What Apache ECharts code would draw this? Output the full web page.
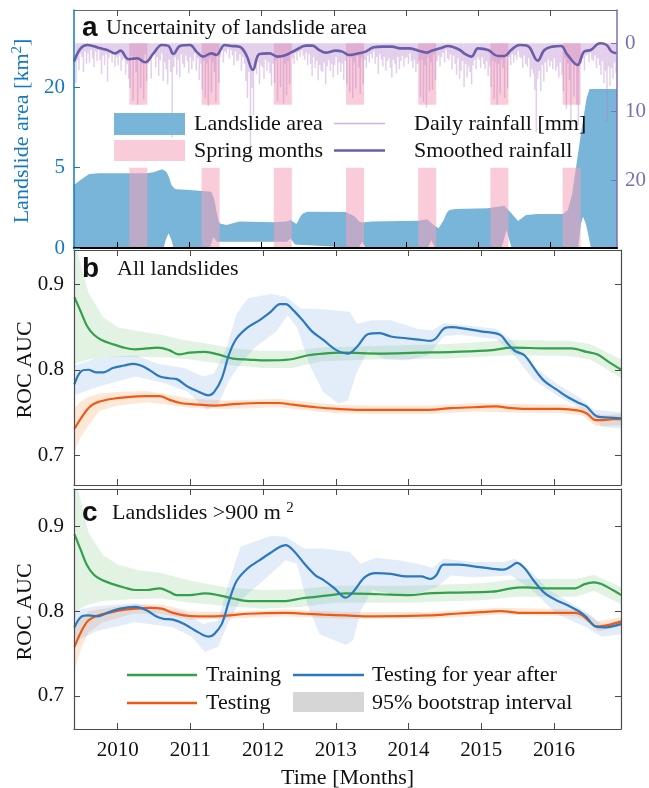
<!DOCTYPE html>
<html><head><meta charset="utf-8">
<script src="https://cdn.jsdelivr.net/npm/echarts@6/dist/echarts.min.js"></script>
<style>html,body{margin:0;padding:0;background:#fff}#c{width:649px;height:788px}</style>
</head><body><div id="c"></div>
<script>
// ---------- axis / tick data ----------
const xMin = 2009.4, xMax = 2016.92;
const yearTicks = [2010, 2011, 2012, 2013, 2014, 2015, 2016];
const areaTicks = [0, 5, 20];
const rainTicks = [0, 10, 20];
const rocTicks = [0.7, 0.8, 0.9];
const springYears = [2010, 2011, 2012, 2013, 2014, 2015, 2016];
const springFromMonth = 3, springToMonth = 5;
const springAreaTop = 5;     // km^2
const springRainDepth = 9;   // mm

// ---------- panel a: landslide area band (km^2) ----------
const areaUpper = [[2009.40,3.08],[2009.49,3.59],[2009.61,4.25],[2009.75,4.33],[2010.40,4.33],[2010.50,4.45],[2010.62,4.80],[2010.68,4.51],[2010.71,4.0],[2010.75,3.08],[2010.79,2.75],[2010.82,2.67],[2011.00,2.61],[2011.30,2.46],[2011.34,1.9],[2011.37,1.12],[2011.40,0.6],[2011.42,0.47],[2011.51,0.41],[2011.69,0.54],[2012.15,0.51],[2012.34,0.54],[2012.40,0.61],[2012.48,0.45],[2012.54,0.8],[2012.57,0.93],[2012.63,1.02],[2013.16,1.00],[2013.28,0.79],[2013.35,0.55],[2013.39,0.50],[2013.53,0.54],[2014.17,0.58],[2014.29,0.64],[2014.38,0.41],[2014.45,0.30],[2014.52,0.61],[2014.56,0.95],[2014.60,1.12],[2014.68,1.18],[2015.13,1.22],[2015.36,1.39],[2015.46,0.93],[2015.55,0.57],[2015.66,0.84],[2015.82,0.90],[2016.17,0.90],[2016.24,1.12],[2016.30,2.3],[2016.36,5.5],[2016.43,11.0],[2016.50,17.5],[2016.54,19.6],[2016.92,19.6]];
const areaLower = [[2009.40,0],[2010.64,0],[2010.67,0.05],[2010.71,0.17],[2010.75,0.05],[2010.78,0],[2011.28,0],[2011.33,0.09],[2011.38,0.03],[2012.35,0.03],[2012.40,0.07],[2012.46,0.01],[2013.34,0],[2013.39,0.03],[2013.44,0],[2014.30,0],[2014.35,0.05],[2014.40,0],[2015.32,0],[2015.39,0.25],[2015.46,0],[2016.38,0],[2016.42,0.45],[2016.45,0.76],[2016.49,0.45],[2016.56,0],[2016.92,0]];

// ---------- panel a: rainfall (mm), weekly bars from June 2009 ----------
const rain2009 = [5.8,2.5,3.9,1.5, 2.0,4.2,1.2,3.0, 1.5,2.8,1.0,2.2, 3.5,1.2,2.6,1.0, 2.4,4.5,1.8,3.2, 1.6,5.6,2.2,1.4, 2.8,1.5,3.4,2.0];
const rain2010 = [3.2,1.8,4.0,2.5, 2.2,4.6,3.0,5.2, 6.5,1.8,8.4,2.5, 4.2,9.0,2.0,6.6, 3.0,8.2,1.6,5.5, 3.0,2.2,5.2,1.8, 1.2,3.5,2.0,4.8, 2.5,1.5,5.5,2.8, 3.8,6.0,2.4,4.2, 13.8,3.5,2.0,4.6, 2.4,5.0,1.6,3.0, 3.6,1.8,2.6,4.4];
const rain2011 = [2.0,3.8,2.6,1.5, 4.0,2.2,5.4,3.0, 6.8,2.5,8.0,3.0, 9.2,2.2,7.2,2.8, 4.2,8.6,1.6,5.8, 2.0,1.0,2.8,1.2, 1.5,0.8,2.2,1.0, 1.8,3.2,1.2,2.6, 2.5,1.6,4.0,2.0, 3.0,5.5,8.0,4.2, 17.5,6.5,10.5,3.8, 4.5,2.8,6.0,3.2];
const rain2012 = [3.5,5.2,2.4,4.0, 2.8,4.4,6.2,3.0, 5.8,2.5,8.5,2.2, 6.4,1.8,8.8,3.0, 7.6,2.6,6.0,1.4, 2.2,3.0,1.4,2.5, 1.2,2.0,1.0,1.8, 2.4,1.4,3.2,1.6, 3.0,4.8,2.0,3.6, 2.6,5.4,3.2,4.0, 4.2,2.8,6.0,3.4, 2.5,4.0,3.0,5.0];
const rain2013 = [3.2,2.0,4.6,2.8, 4.2,3.0,5.4,2.6, 6.0,2.0,7.2,2.2, 8.0,2.8,6.6,1.8, 3.5,7.4,2.2,6.0, 2.4,3.6,1.8,2.8, 1.6,2.2,1.2,3.0, 2.0,4.5,1.6,2.4, 3.4,2.0,4.0,2.6, 2.2,3.6,5.0,2.4, 3.0,4.4,2.0,3.8, 2.6,1.8,3.4,2.2];
const rain2014 = [2.0,3.0,1.5,2.6, 3.6,2.4,4.2,3.0, 2.6,7.8,2.4,8.6, 3.2,9.4,2.0,7.0, 2.8,6.8,1.6,5.4, 2.6,1.8,3.4,2.0, 1.4,2.8,1.0,2.2, 2.4,1.6,3.8,1.8, 3.0,4.6,2.2,5.2, 4.0,2.6,6.4,3.0, 5.0,3.4,4.2,6.0, 3.2,2.4,3.8,2.0];
const rain2015 = [2.4,3.6,2.0,3.0, 3.8,2.6,4.8,3.4, 6.4,2.6,8.2,2.8, 9.0,3.0,7.4,2.4, 3.6,8.0,1.8,6.6, 2.0,3.2,1.6,2.8, 1.8,2.4,1.2,2.0, 2.2,3.6,1.8,3.0, 3.4,2.2,5.0,3.8, 4.4,6.8,13.0,5.2, 4.0,7.0,3.2,5.6, 2.8,4.2,2.4,3.4];
const rain2016 = [2.6,3.8,2.2,4.0, 3.4,5.0,2.8,4.6, 7.0,2.2,9.6,3.0, 5.4,11.5,2.6,7.8, 3.2,9.0,12.0,2.4, 3.0,2.2,4.0,1.8, 1.6,2.8,1.4,2.4, 2.6,1.8,3.6,2.2, 3.2,4.6,2.6,5.8, 4.0,11.5,3.4,6.2, 3.6,5.2,2.8,4.4];
const rainSmooth = [[2009.400,2.69],[2009.492,0.74],[2009.583,0.25],[2009.767,0.74],[2009.859,0.98],[2009.973,1.47],[2010.042,1.08],[2010.157,2.34],[2010.272,2.20],[2010.386,2.78],[2010.501,1.47],[2010.616,0.25],[2010.707,0.39],[2010.776,1.56],[2010.868,0.39],[2011.006,0.25],[2011.097,1.22],[2011.189,1.95],[2011.304,1.47],[2011.372,1.71],[2011.487,0.25],[2011.579,0.39],[2011.693,0.49],[2011.785,1.71],[2011.877,3.90],[2011.969,1.56],[2012.106,1.47],[2012.221,1.95],[2012.336,1.71],[2012.473,0.98],[2012.611,0.34],[2012.703,0.34],[2012.794,0.98],[2012.886,1.37],[2013.024,1.08],[2013.116,1.22],[2013.207,1.71],[2013.345,1.47],[2013.437,1.22],[2013.551,0.59],[2013.666,0.49],[2013.804,0.49],[2013.918,0.74],[2014.033,0.74],[2014.171,1.08],[2014.285,1.37],[2014.354,1.08],[2014.469,0.74],[2014.583,0.39],[2014.744,0.98],[2014.813,1.56],[2014.905,1.95],[2014.996,0.74],[2015.134,0.98],[2015.272,1.86],[2015.363,1.86],[2015.455,0.98],[2015.570,0.25],[2015.684,0.39],[2015.822,2.54],[2015.914,0.98],[2016.028,0.49],[2016.143,0.39],[2016.235,1.71],[2016.372,3.17],[2016.464,1.22],[2016.556,0.98],[2016.684,0.0],[2016.776,0.25],[2016.845,1.22],[2016.913,1.46]];

// ---------- panel b: all landslides ----------
const bTraining = [[2009.406,0.885],[2009.494,0.868],[2009.581,0.851],[2009.674,0.841],[2009.778,0.835],[2009.933,0.830],[2010.088,0.826],[2010.243,0.824],[2010.398,0.825],[2010.553,0.826],[2010.708,0.823],[2010.837,0.818],[2010.992,0.820],[2011.199,0.821],[2011.380,0.818],[2011.587,0.813],[2011.793,0.812],[2012.052,0.811],[2012.362,0.812],[2012.620,0.817],[2012.827,0.819],[2013.085,0.820],[2013.602,0.819],[2014.119,0.820],[2014.636,0.821],[2015.152,0.823],[2015.411,0.826],[2015.928,0.825],[2016.238,0.825],[2016.444,0.821],[2016.599,0.818],[2016.755,0.809],[2016.925,0.800]];
const bTrainingHi = [[2009.406,0.950],[2009.6,0.890],[2009.8,0.862],[2010.0,0.850],[2010.3,0.845],[2010.6,0.841],[2010.9,0.835],[2011.2,0.831],[2011.6,0.825],[2012.0,0.822],[2012.4,0.822],[2012.8,0.826],[2013.5,0.828],[2014.5,0.830],[2015.4,0.835],[2016.2,0.834],[2016.5,0.830],[2016.925,0.812]];
const bTrainingLo = [[2009.406,0.807],[2009.6,0.812],[2009.8,0.815],[2010.2,0.815],[2010.6,0.815],[2011.0,0.812],[2011.6,0.805],[2012.0,0.802],[2012.4,0.802],[2012.8,0.810],[2013.5,0.812],[2014.5,0.813],[2015.4,0.817],[2016.2,0.816],[2016.5,0.812],[2016.925,0.790]];
const bTesting = [[2009.406,0.731],[2009.519,0.746],[2009.623,0.757],[2009.726,0.762],[2009.933,0.766],[2010.140,0.768],[2010.398,0.769],[2010.579,0.769],[2010.708,0.765],[2010.863,0.761],[2011.121,0.759],[2011.328,0.758],[2011.638,0.760],[2011.948,0.761],[2012.207,0.761],[2012.413,0.759],[2012.723,0.756],[2013.034,0.754],[2013.344,0.753],[2014.274,0.753],[2014.584,0.755],[2014.894,0.756],[2015.204,0.757],[2015.411,0.755],[2015.721,0.754],[2016.083,0.754],[2016.341,0.752],[2016.444,0.749],[2016.574,0.741],[2016.677,0.741],[2016.806,0.742],[2016.925,0.742]];
const bTestingHi = [[2009.406,0.755],[2009.5,0.763],[2009.6,0.768],[2009.75,0.772],[2010.0,0.774],[2010.4,0.775],[2010.7,0.771],[2011.0,0.766],[2011.5,0.764],[2012.2,0.766],[2013.0,0.759],[2013.5,0.758],[2014.3,0.758],[2014.9,0.761],[2015.4,0.760],[2016.1,0.759],[2016.4,0.756],[2016.57,0.748],[2016.7,0.747],[2016.925,0.748]];
const bTestingLo = [[2009.406,0.705],[2009.5,0.722],[2009.6,0.735],[2009.75,0.752],[2010.0,0.758],[2010.4,0.762],[2010.7,0.759],[2011.0,0.755],[2011.5,0.754],[2012.2,0.756],[2013.0,0.749],[2013.5,0.748],[2014.3,0.748],[2014.9,0.751],[2015.4,0.750],[2016.1,0.749],[2016.4,0.746],[2016.57,0.734],[2016.7,0.734],[2016.925,0.735]];
const bYearAfter = [[2009.406,0.783],[2009.494,0.798],[2009.597,0.800],[2009.700,0.797],[2009.804,0.797],[2009.933,0.802],[2010.088,0.805],[2010.217,0.807],[2010.320,0.805],[2010.450,0.799],[2010.579,0.792],[2010.708,0.790],[2010.811,0.789],[2010.966,0.780],[2011.121,0.774],[2011.251,0.770],[2011.328,0.774],[2011.432,0.790],[2011.535,0.819],[2011.638,0.837],[2011.793,0.850],[2011.948,0.858],[2012.103,0.868],[2012.233,0.877],[2012.310,0.877],[2012.413,0.870],[2012.543,0.858],[2012.672,0.845],[2012.827,0.835],[2013.008,0.823],[2013.163,0.819],[2013.292,0.827],[2013.447,0.842],[2013.602,0.843],[2013.757,0.839],[2013.964,0.837],[2014.171,0.835],[2014.300,0.834],[2014.377,0.837],[2014.481,0.848],[2014.584,0.850],[2014.791,0.848],[2014.997,0.845],[2015.256,0.841],[2015.359,0.831],[2015.463,0.822],[2015.592,0.817],[2015.773,0.796],[2015.876,0.786],[2016.031,0.777],[2016.186,0.768],[2016.341,0.761],[2016.444,0.757],[2016.599,0.745],[2016.755,0.744],[2016.925,0.743]];
const bYearAfterHi = [[2009.406,0.805],[2009.726,0.814],[2010.243,0.817],[2010.553,0.807],[2010.915,0.802],[2011.173,0.792],[2011.328,0.796],[2011.483,0.823],[2011.638,0.866],[2011.793,0.884],[2012.103,0.889],[2012.310,0.886],[2012.517,0.872],[2012.827,0.871],[2013.189,0.868],[2013.292,0.854],[2013.499,0.858],[2013.757,0.858],[2014.119,0.848],[2014.326,0.846],[2014.481,0.855],[2014.894,0.851],[2015.204,0.848],[2015.411,0.835],[2015.721,0.804],[2016.031,0.784],[2016.341,0.768],[2016.547,0.753],[2016.925,0.750]];
const bYearAfterLo = [[2009.406,0.770],[2009.726,0.780],[2010.243,0.792],[2010.656,0.784],[2010.966,0.774],[2011.225,0.753],[2011.380,0.759],[2011.535,0.788],[2011.690,0.807],[2011.897,0.827],[2012.181,0.845],[2012.336,0.864],[2012.465,0.850],[2012.646,0.804],[2012.827,0.774],[2013.034,0.760],[2013.163,0.764],[2013.292,0.798],[2013.447,0.823],[2013.654,0.813],[2013.964,0.811],[2014.274,0.817],[2014.481,0.839],[2014.687,0.841],[2015.204,0.836],[2015.411,0.821],[2015.721,0.788],[2016.031,0.770],[2016.444,0.751],[2016.651,0.733],[2016.925,0.731]];

// ---------- panel c: landslides > 900 m^2 ----------
const cTraining = [[2009.406,0.891],[2009.494,0.872],[2009.581,0.854],[2009.674,0.843],[2009.778,0.837],[2009.933,0.832],[2010.088,0.828],[2010.243,0.825],[2010.398,0.825],[2010.579,0.827],[2010.708,0.823],[2010.811,0.819],[2010.992,0.819],[2011.199,0.821],[2011.380,0.819],[2011.587,0.815],[2011.793,0.812],[2012.310,0.812],[2012.517,0.815],[2012.723,0.817],[2012.930,0.819],[2013.137,0.821],[2013.602,0.820],[2014.016,0.819],[2014.274,0.821],[2014.636,0.822],[2015.152,0.823],[2015.411,0.827],[2015.566,0.828],[2015.928,0.827],[2016.289,0.827],[2016.419,0.832],[2016.548,0.834],[2016.651,0.832],[2016.806,0.825],[2016.925,0.819]];
const cTrainingHi = [[2009.406,0.960],[2009.6,0.893],[2009.8,0.866],[2010.0,0.855],[2010.3,0.848],[2010.6,0.845],[2011.0,0.836],[2011.5,0.828],[2012.0,0.825],[2012.5,0.826],[2013.0,0.830],[2014.0,0.830],[2015.0,0.833],[2015.5,0.838],[2016.3,0.838],[2016.55,0.843],[2016.925,0.828]];
const cTrainingLo = [[2009.406,0.800],[2009.6,0.808],[2009.8,0.812],[2010.2,0.814],[2010.6,0.815],[2011.0,0.810],[2011.5,0.806],[2012.0,0.803],[2012.5,0.805],[2013.0,0.810],[2014.0,0.810],[2015.0,0.813],[2015.5,0.817],[2016.3,0.817],[2016.55,0.824],[2016.925,0.808]];
const cTesting = [[2009.406,0.758],[2009.494,0.775],[2009.597,0.789],[2009.726,0.795],[2009.881,0.798],[2010.036,0.801],[2010.243,0.803],[2010.450,0.804],[2010.605,0.803],[2010.760,0.798],[2010.915,0.795],[2011.121,0.794],[2011.328,0.794],[2011.535,0.795],[2011.793,0.797],[2012.310,0.798],[2012.568,0.797],[2012.827,0.796],[2013.137,0.795],[2013.499,0.794],[2014.274,0.795],[2014.636,0.797],[2014.997,0.799],[2015.256,0.800],[2015.566,0.798],[2016.289,0.798],[2016.393,0.795],[2016.496,0.787],[2016.574,0.782],[2016.703,0.783],[2016.806,0.785],[2016.925,0.788]];
const cTestingHi = [[2009.406,0.779],[2009.5,0.792],[2009.6,0.800],[2009.8,0.803],[2010.2,0.808],[2010.6,0.808],[2011.0,0.800],[2011.5,0.799],[2012.3,0.802],[2013.1,0.799],[2014.3,0.799],[2015.25,0.804],[2016.3,0.802],[2016.45,0.797],[2016.6,0.788],[2016.925,0.793]];
const cTestingLo = [[2009.406,0.730],[2009.5,0.757],[2009.6,0.775],[2009.8,0.787],[2010.2,0.797],[2010.6,0.797],[2011.0,0.790],[2011.5,0.791],[2012.3,0.794],[2013.1,0.791],[2014.3,0.791],[2015.25,0.796],[2016.3,0.794],[2016.45,0.788],[2016.6,0.776],[2016.925,0.782]];
const cYearAfter = [[2009.406,0.781],[2009.494,0.793],[2009.597,0.795],[2009.726,0.794],[2009.881,0.799],[2010.036,0.803],[2010.243,0.805],[2010.398,0.801],[2010.527,0.794],[2010.631,0.791],[2010.760,0.790],[2010.915,0.785],[2011.070,0.777],[2011.173,0.772],[2011.251,0.770],[2011.328,0.773],[2011.432,0.785],[2011.535,0.813],[2011.638,0.836],[2011.793,0.851],[2011.948,0.860],[2012.103,0.869],[2012.233,0.876],[2012.310,0.878],[2012.413,0.872],[2012.568,0.856],[2012.723,0.842],[2012.827,0.837],[2012.982,0.827],[2013.137,0.816],[2013.240,0.823],[2013.395,0.840],[2013.550,0.845],[2013.757,0.844],[2013.964,0.841],[2014.171,0.841],[2014.300,0.838],[2014.377,0.842],[2014.481,0.855],[2014.687,0.855],[2014.894,0.853],[2015.152,0.850],[2015.307,0.849],[2015.411,0.853],[2015.488,0.857],[2015.592,0.851],[2015.721,0.836],[2015.876,0.821],[2016.031,0.813],[2016.186,0.807],[2016.341,0.800],[2016.444,0.793],[2016.574,0.782],[2016.703,0.781],[2016.925,0.785]];
const cYearAfterHi = [[2009.406,0.801],[2009.726,0.806],[2010.243,0.809],[2010.553,0.805],[2010.915,0.799],[2011.173,0.785],[2011.380,0.789],[2011.535,0.836],[2011.690,0.876],[2012.103,0.889],[2012.310,0.888],[2012.568,0.874],[2012.827,0.874],[2013.189,0.870],[2013.344,0.856],[2013.550,0.863],[2013.860,0.860],[2014.171,0.855],[2014.326,0.851],[2014.481,0.862],[2014.894,0.858],[2015.307,0.858],[2015.462,0.862],[2015.669,0.848],[2015.928,0.825],[2016.444,0.799],[2016.651,0.785],[2016.925,0.789]];
const cYearAfterLo = [[2009.406,0.764],[2009.726,0.777],[2010.243,0.787],[2010.760,0.781],[2011.018,0.770],[2011.199,0.752],[2011.380,0.758],[2011.535,0.789],[2011.690,0.813],[2012.000,0.836],[2012.310,0.860],[2012.465,0.856],[2012.620,0.805],[2012.775,0.773],[2013.137,0.760],[2013.240,0.766],[2013.344,0.801],[2013.499,0.825],[2013.757,0.821],[2014.067,0.819],[2014.377,0.828],[2014.584,0.842],[2014.894,0.840],[2015.411,0.842],[2015.721,0.823],[2016.031,0.797],[2016.444,0.781],[2016.651,0.770],[2016.925,0.773]];

// ---------- styling ----------
const SERIF = '"Liberation Serif", "Times New Roman", serif';
const SANS = '"Liberation Sans", Arial, sans-serif';
const C_AREA = '#79b4d9', C_PINK = 'rgba(245,160,185,0.55)', C_RAIN = 'rgba(180,125,200,0.38)';
const C_SMOOTH = '#6a5ea8', C_RAINAX = '#7d6fb3', C_AREAAX = '#1479bf';
const C_GREEN = '#33a04a', C_ORANGE = '#ee5a16', C_BLUE = '#2b78be';
const F_GREEN = 'rgba(70,175,70,0.15)', F_ORANGE = 'rgba(245,135,55,0.2)', F_BLUE = 'rgba(80,145,215,0.16)';
const BOX = '#4a4a4a';

const rainAll = [].concat(rain2009, rain2010, rain2011, rain2012, rain2013, rain2014, rain2015, rain2016);
const rainData = rainAll.map((v, i) => [2009 + (5 + (i + 0.5) / 4) / 12, v]);

function xAx(grid, pos, labels, color, width) {
  return {
    type: 'value', gridIndex: grid, position: pos, min: xMin, max: xMax, z: 10,
    axisLine: {show: true, onZero: false, lineStyle: {color: color, width: width}},
    axisTick: {show: true, inside: true, length: 6, customValues: yearTicks, lineStyle: {color: color === '#000' ? '#000' : BOX, width: 1}},
    axisLabel: {show: labels, customValues: yearTicks, formatter: v => String(Math.round(v)), fontFamily: SERIF, fontSize: 21, color: '#111', margin: 11},
    splitLine: {show: false}
  };
}
function yRoc(grid, pos, min, max, labels) {
  return {
    type: 'value', gridIndex: grid, position: pos, min: min, max: max, z: 10,
    axisLine: {show: true, onZero: false, lineStyle: {color: BOX, width: 1.2}},
    axisTick: {show: true, inside: true, length: 6, customValues: rocTicks, lineStyle: {color: BOX}},
    axisLabel: {show: labels, customValues: rocTicks, formatter: v => v.toFixed(1), fontFamily: SERIF, fontSize: 21, color: '#111', margin: 10},
    splitLine: {show: false}
  };
}
function band(xi, yi, upper, lower, color, tf, z) {
  tf = tf || (v => v);
  return {
    type: 'custom', xAxisIndex: xi, yAxisIndex: yi, clip: true, silent: true, z: z || 1,
    data: [[upper[0][0], tf(upper[0][1])]],
    renderItem: (params, api) => {
      const pts = upper.map(p => api.coord([p[0], tf(p[1])]))
        .concat(lower.slice().reverse().map(p => api.coord([p[0], tf(p[1])])));
      return {type: 'polygon', shape: {points: pts}, style: {fill: color}};
    }
  };
}
function line(xi, yi, data, color, z) {
  return {type: 'line', xAxisIndex: xi, yAxisIndex: yi, data: data, showSymbol: false, smooth: 0.35,
    clip: true, silent: true, z: z || 3, lineStyle: {color: color, width: 2.2}, itemStyle: {color: color}};
}
const springs = springYears.map(y => [y + (springFromMonth - 1) / 12, y + springToMonth / 12]);
function springRects(yi, top, tf, z) {
  return {
    type: 'custom', xAxisIndex: 0, yAxisIndex: yi, silent: true, z: z, clip: true,
    data: springs,
    renderItem: (params, api) => {
      const p0 = api.coord([api.value(0), tf(0)]);
      const p1 = api.coord([api.value(1), tf(top)]);
      return {type: 'rect', shape: {x: p0[0], y: Math.min(p0[1], p1[1]), width: p1[0] - p0[0], height: Math.abs(p1[1] - p0[1])},
        style: {fill: C_PINK}};
    }
  };
}
const sq = v => Math.sqrt(v);
const ident = v => v;

function txt(x, y, text, opt) {
  opt = opt || {};
  return Object.assign({type: 'text', x: x, y: y, z: 100, silent: true,
    style: Object.assign({text: text, fill: '#111', font: '22px ' + SERIF, fontFamily: SERIF, fontSize: 22,
      textAlign: 'left', textVerticalAlign: 'middle', align: 'left', verticalAlign: 'middle'}, opt.style || {})},
    opt.el || {});
}

const option = {
  animation: false,
  backgroundColor: '#fff',
  grid: [
    {left: 74, right: 28, top: 10, height: 238},
    {left: 74, right: 28, top: 250, height: 235},
    {left: 74, right: 28, top: 489, height: 240}
  ],
  xAxis: [
    xAx(0, 'bottom', false, '#000', 2.2),
    xAx(0, 'top', false, '#6a6a6a', 1),
    xAx(1, 'bottom', false, BOX, 1.2),
    xAx(1, 'top', false, BOX, 1.2),
    xAx(2, 'bottom', true, BOX, 1.2),
    xAx(2, 'top', false, BOX, 1.2)
  ],
  yAxis: [
    {type: 'value', gridIndex: 0, position: 'left', min: 0, max: 6.63, z: 10,
      axisLine: {show: true, onZero: false, lineStyle: {color: C_AREAAX, width: 1.5}},
      axisTick: {show: true, inside: true, length: 6, customValues: areaTicks.map(sq), lineStyle: {color: C_AREAAX}},
      axisLabel: {show: true, customValues: areaTicks.map(sq), formatter: v => String(Math.round(v * v)), fontFamily: SERIF, fontSize: 21, color: C_AREAAX, margin: 9},
      splitLine: {show: false}},
    {type: 'value', gridIndex: 0, position: 'right', inverse: true, min: -4.87, max: 29.95, z: 10,
      axisLine: {show: true, onZero: false, lineStyle: {color: C_RAINAX, width: 1.5}},
      axisTick: {show: true, inside: true, length: 6, customValues: rainTicks, lineStyle: {color: C_RAINAX}},
      axisLabel: {show: true, customValues: rainTicks, formatter: v => String(Math.round(v)), fontFamily: SERIF, fontSize: 21, color: C_RAINAX, margin: 8},
      splitLine: {show: false}},
    yRoc(1, 'left', 0.6648, 0.9405, true),
    yRoc(1, 'right', 0.6648, 0.9405, false),
    yRoc(2, 'left', 0.661, 0.9442, true),
    yRoc(2, 'right', 0.661, 0.9442, false)
  ],
  series: [
    band(0, 0, areaUpper, areaLower, C_AREA, sq, 1),
    springRects(0, springAreaTop, sq, 2),
    springRects(1, springRainDepth, ident, 2),
    {type: 'bar', xAxisIndex: 0, yAxisIndex: 1, data: rainData, barWidth: 1.5, silent: true, z: 3,
      itemStyle: {color: C_RAIN}},
    {type: 'line', xAxisIndex: 0, yAxisIndex: 1, data: rainSmooth, showSymbol: false, smooth: 0.4, silent: true, z: 4,
      lineStyle: {color: C_SMOOTH, width: 2.6}},

    band(2, 2, bTrainingHi, bTrainingLo, F_GREEN, null, 1),
    band(2, 2, bTestingHi, bTestingLo, F_ORANGE, null, 1),
    band(2, 2, bYearAfterHi, bYearAfterLo, F_BLUE, null, 1),
    line(2, 2, bTraining, C_GREEN),
    line(2, 2, bTesting, C_ORANGE),
    line(2, 2, bYearAfter, C_BLUE),

    band(4, 4, cTrainingHi, cTrainingLo, F_GREEN, null, 1),
    band(4, 4, cTestingHi, cTestingLo, F_ORANGE, null, 1),
    band(4, 4, cYearAfterHi, cYearAfterLo, F_BLUE, null, 1),
    line(4, 4, cTraining, C_GREEN),
    line(4, 4, cTesting, C_ORANGE),
    line(4, 4, cYearAfter, C_BLUE)
  ],
  graphic: [
    txt(82, 28, 'a', {style: {font: 'bold 28px ' + SANS, fontFamily: SANS, fontSize: 28, fontWeight: 'bold'}}),
    txt(106, 28, 'Uncertainity of landslide area'),
    txt(82, 269, 'b', {style: {font: 'bold 28px ' + SANS, fontFamily: SANS, fontSize: 28, fontWeight: 'bold'}}),
    txt(117, 269, 'All landslides'),
    txt(82, 513, 'c', {style: {font: 'bold 28px ' + SANS, fontFamily: SANS, fontSize: 28, fontWeight: 'bold'}}),
    txt(112, 513, 'Landslides >900 m {s|2}', {style: {rich: {s: {fontSize: 15, fontFamily: SERIF, verticalAlign: 'top', fill: '#111', padding: [0, 0, 10, 0]}}}}),
    txt(22, 131, 'Landslide area [km{s|2}]', {style: {fill: C_AREAAX, textAlign: 'center', align: 'center',
      rich: {s: {fontSize: 15, fontFamily: SERIF, fill: C_AREAAX, verticalAlign: 'top', padding: [0, 0, 10, 0]}}}, el: {rotation: Math.PI / 2}}),
    txt(25, 370, 'ROC AUC', {style: {textAlign: 'center', align: 'center'}, el: {rotation: Math.PI / 2}}),
    txt(25, 612, 'ROC AUC', {style: {textAlign: 'center', align: 'center'}, el: {rotation: Math.PI / 2}}),
    txt(347.5, 778, 'Time [Months]', {style: {textAlign: 'center', align: 'center'}}),
    {type: 'rect', z: 100, silent: true, shape: {x: 114, y: 113, width: 71, height: 22}, style: {fill: C_AREA}},
    {type: 'rect', z: 100, silent: true, shape: {x: 114, y: 140, width: 71, height: 21}, style: {fill: C_PINK}},
    txt(194, 124.5, 'Landslide area'),
    txt(194, 151.5, 'Spring months'),
    {type: 'line', z: 100, silent: true, shape: {x1: 334, y1: 123.5, x2: 385, y2: 123.5}, style: {stroke: 'rgba(180,125,200,0.6)', lineWidth: 1.6}},
    {type: 'line', z: 100, silent: true, shape: {x1: 334, y1: 150.5, x2: 385, y2: 150.5}, style: {stroke: C_SMOOTH, lineWidth: 2.6}},
    txt(414, 124.5, 'Daily rainfall [mm]'),
    txt(414, 151.5, 'Smoothed rainfall'),
    {type: 'line', z: 100, silent: true, shape: {x1: 127, y1: 675, x2: 197, y2: 675}, style: {stroke: C_GREEN, lineWidth: 2.4}},
    {type: 'line', z: 100, silent: true, shape: {x1: 127, y1: 703, x2: 197, y2: 703}, style: {stroke: C_ORANGE, lineWidth: 2.4}},
    {type: 'line', z: 100, silent: true, shape: {x1: 293, y1: 675, x2: 364, y2: 675}, style: {stroke: C_BLUE, lineWidth: 2.4}},
    {type: 'rect', z: 100, silent: true, shape: {x: 293, y: 692, width: 71, height: 20}, style: {fill: '#d6d6d6'}},
    txt(206, 675, 'Training'),
    txt(206, 703, 'Testing'),
    txt(372, 675, 'Testing for year after'),
    txt(372, 703, '95% bootstrap interval')
  ]
};

const chart = echarts.init(document.getElementById('c'), null, {renderer: 'canvas', width: 649, height: 788});
chart.setOption(option);
</script>
</body></html>
